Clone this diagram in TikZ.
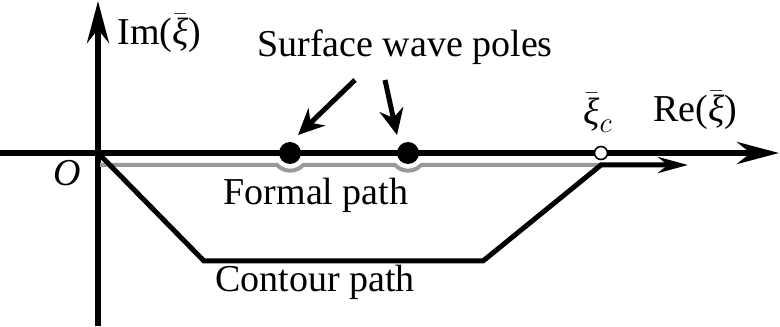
\documentclass[tikz,border=0pt]{standalone}
\usepackage{fontspec}
\setmainfont{Liberation Serif}
\usetikzlibrary{arrows.meta,calc}
\newcommand{\xibar}{\bar{\mbox{\itshape ξ}}}

\begin{document}
\begin{tikzpicture}[x=0.5pt,y=0.5pt,font=\fontsize{19}{23}\selectfont,
  axis/.style={line width=3pt,-{Stealth[length=21pt,width=11pt]}},
  contour/.style={line width=2.5pt,line join=miter,-{Stealth[length=15pt,width=8pt]}},
  formal/.style={line width=2pt,gray!80},
  pole/.style={circle,fill=black,inner sep=0pt,minimum size=11pt},
  cutoff/.style={circle,draw=black,fill=white,line width=0.8pt,inner sep=0pt,minimum size=6.5pt},
  pointer/.style={line width=2.5pt,-{Stealth[length=13pt,width=12pt]}}]
  \useasboundingbox (0,0) rectangle (780,326);
  % axes
  \coordinate (xl) at (0,173);
  \coordinate (xr) at (779,173);
  \coordinate (yb) at (98,0);
  \coordinate (yt) at (98,325);
  \coordinate (O) at (98,173);
  \draw[axis] (yb) -- (yt);
  \draw[axis] (xl) -- (xr);
  \node (im) [anchor=base west,inner sep=0pt] at (117,281) {Im(\(\xibar\))};
  \node (re) [anchor=base west,inner sep=0pt] at (653,204) {Re(\(\xibar\))};
  \node (o) [inner sep=0pt] at (67,153) {\textit{O}};
  % formal path, dipping under the poles
  \coordinate (p1) at (290,173);
  \coordinate (p2) at (408,173);
  \coordinate (xc) at (601,173);
  \draw[formal] (100,161) -- ($(p1)+(-13,-12)$) arc[start angle=223,end angle=317,radius=9pt]
    -- ($(p2)+(-13,-12)$) arc[start angle=223,end angle=317,radius=9pt] -- ($(xc)+(0,-12)$);
  \node (formal) [anchor=base,inner sep=0pt] at (316,121) {Formal path};
  % contour path
  \coordinate (bl) at (204,65);
  \coordinate (br) at (483,65);
  \coordinate (tr) at (601,161);
  \coordinate (end) at (688,161);
  \draw[contour] (O) -- (bl) -- (br) -- (tr) -- (end);
  \node (contour) [anchor=base,inner sep=0pt] at (315,34) {Contour path};
  % poles and cut-off point
  \node[pole] (pole1) at (p1) {};
  \node[pole] (pole2) at (p2) {};
  \node[cutoff] (cut) at (xc) {};
  \node (xic) [inner sep=0pt] at (598,213) {\(\xibar_c\)};
  \node (poles) [anchor=base,inner sep=0pt] at (405,269) {Surface wave poles};
  \coordinate (s1) at (355,246);
  \coordinate (t1) at (298,191);
  \coordinate (s2) at (385,246);
  \coordinate (t2) at (397,191);
  \draw[pointer] (s1) -- (t1);
  \draw[pointer] (s2) -- (t2);
\end{tikzpicture}
\end{document}
